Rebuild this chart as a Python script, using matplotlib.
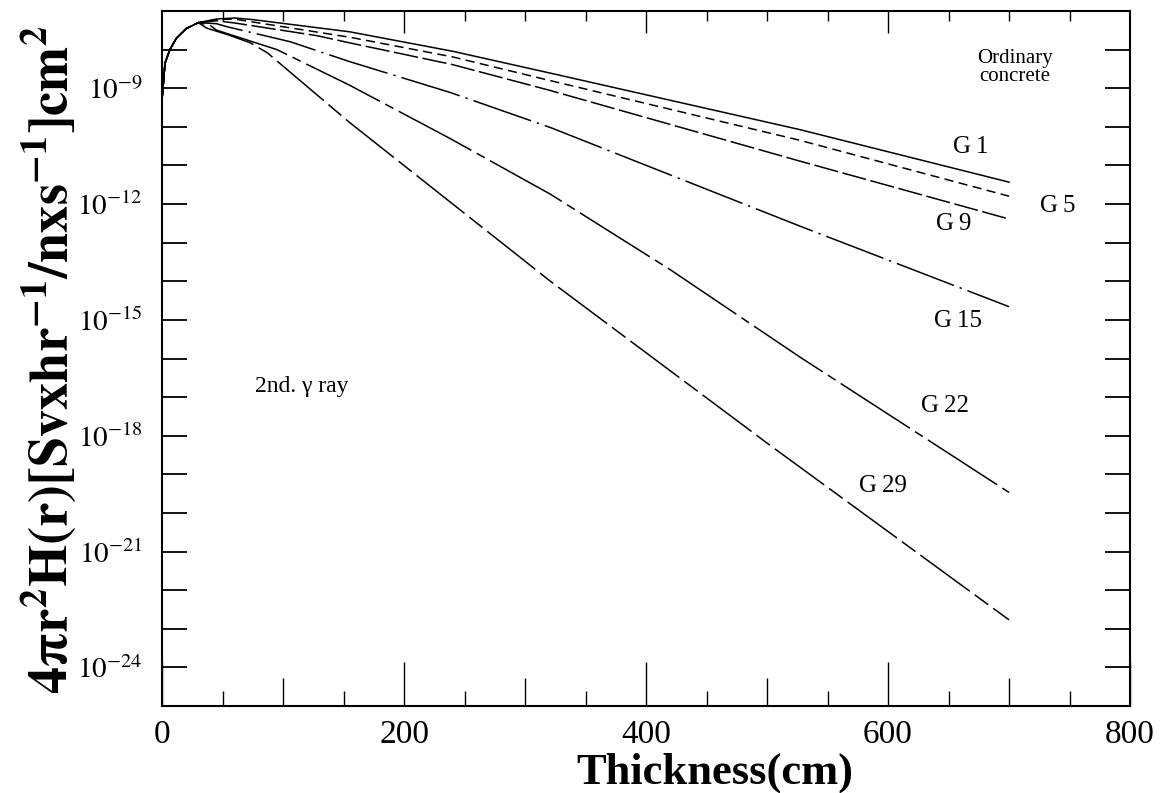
import numpy as np
import matplotlib
matplotlib.use("Agg")
import matplotlib.pyplot as plt
from matplotlib.ticker import FixedLocator, FuncFormatter, NullLocator

plt.rcParams["font.family"] = ["Liberation Serif", "DejaVu Serif"]
plt.rcParams["mathtext.fontset"] = "stix"

# shared build-up part near the surface
rise_x = [0, 2.5, 6.5, 12, 20, 30]
rise_y = [5.0e-10, 4.5e-9, 1.0e-8, 2.0e-8, 3.5e-8, 5.0e-8]

g1_x = [45, 60, 75, 155, 240, 320, 527, 700]
g1_y = [6.2e-8, 6.6e-8, 6.0e-8, 2.9e-8, 9.1e-9, 2.5e-9, 8.5e-11, 3.7e-12]

g5_x = [45, 60, 75, 155, 240, 320, 527, 700]
g5_y = [6.0e-8, 6.2e-8, 5.2e-8, 2.1e-8, 6.5e-9, 1.6e-9, 4.5e-11, 1.6e-12]

g9_x = [45, 60, 128, 155, 240, 320, 527, 700]
g9_y = [5.6e-8, 4.9e-8, 2.3e-8, 1.5e-8, 4.1e-9, 8.9e-10, 1.3e-11, 4.1e-13]

g15_x = [45, 54, 106, 155, 238, 321, 527, 700]
g15_y = [4.7e-8, 3.9e-8, 1.6e-8, 4.9e-9, 7.8e-10, 9.6e-11, 2.7e-13, 2.2e-15]

g22_x = [40, 45, 95, 155, 238, 321, 420, 527, 700]
g22_y = [4.2e-8, 3.2e-8, 1.0e-8, 1.2e-9, 5.0e-11, 1.8e-12, 2.0e-14, 1.1e-16, 3.4e-20]

g29_x = [37, 55, 73, 87, 155, 321, 502, 700]
g29_y = [3.6e-8, 2.4e-8, 1.5e-8, 8.3e-9, 1.3e-10, 1.0e-14, 5.8e-19, 1.7e-23]

series = [
    ("G1", g1_x, g1_y, "-"),
    ("G5", g5_x, g5_y, (0, (6, 3.5))),
    ("G9", g9_x, g9_y, (0, (16, 3))),
    ("G15", g15_x, g15_y, (0, (40, 4, 1.5, 4))),
    ("G22", g22_x, g22_y, (0, (54, 4, 6, 4))),
    ("G29", g29_x, g29_y, (0, (40, 4, 11, 4))),
]

fig = plt.figure(figsize=(11.68, 7.93), dpi=100)
ax = fig.add_axes([0.1387, 0.1097, 0.8288, 0.8764])

for name, xs, ys, ls in series:
    ax.plot(np.r_[rise_x, xs], np.r_[rise_y, ys], color="black", lw=1.1, linestyle=ls)

ax.set_yscale("log")
ax.set_xlim(0, 800)
ax.set_ylim(1e-25, 1e-7)

def yfmt(v, pos):
    e = int(round(np.log10(v)))
    if e % 3 == 0 and -24 <= e <= -9:
        return r"$10^{%d}$" % e
    return ""

ax.yaxis.set_major_locator(FixedLocator(10.0 ** np.arange(-25, -6)))
ax.yaxis.set_minor_locator(NullLocator())
ax.yaxis.set_major_formatter(FuncFormatter(yfmt))
ax.tick_params(axis="y", which="major", direction="in", length=18, width=1.3,
               left=True, right=True, labelsize=21, pad=14)

ax.set_xticks([0, 200, 400, 600, 800])
ax.set_xticks(np.arange(100, 800, 200), minor=True)
ax.tick_params(axis="x", which="major", direction="in", length=32, width=1.0,
               top=False, labelsize=24, pad=10)
ax.tick_params(axis="x", which="minor", direction="in", length=20, width=1.0, top=False)

# extra 50 cm ticks on the bottom, and the top ticks
sec = ax.secondary_xaxis("bottom")
sec.set_xticks(np.arange(50, 800, 100))
sec.tick_params(direction="in", length=11, width=1.0, labelbottom=False)
top = ax.secondary_xaxis("top")
top.set_xticks([200, 400, 600])
top.set_xticks([50, 100, 150, 250, 300, 350, 450, 500, 550, 650, 700, 750], minor=True)
top.tick_params(which="major", direction="in", length=16, width=1.0, labeltop=False)
top.tick_params(which="minor", direction="in", length=7, width=1.0)
for s in list(sec.spines.values()) + list(top.spines.values()):
    s.set_visible(False)

for s in ax.spines.values():
    s.set_linewidth(1.5)

# curve labels
labels_pos = {"G1": (668, 10**-10.53), "G5": (740, 10**-12.05), "G9": (654, 10**-12.52),
              "G15": (658, 10**-15.02), "G22": (647, 10**-17.23), "G29": (596, 10**-19.29)}
for name, (lx, ly) in labels_pos.items():
    ax.text(lx, ly, name[0] + "\u2009" + name[1:], fontsize=18, ha="center", va="center")

ax.text(705, 10**-8.47, "Ordinary\nconcrete", fontsize=15, ha="center", va="center",
        linespacing=0.9)
ax.text(77, 10**-16.72, "2nd. \u03b3 ray", fontsize=17, ha="left", va="center")

fig.text(715 / 1168, 1 - 773 / 793, "Thickness(cm)", fontsize=32, fontweight="bold",
         ha="center", va="center")
fig.text(50 / 1168, 1 - 360 / 793, r"$\mathbf{4\pi r^2H(r)[Svxhr^{-1}/nxs^{-1}]cm^2}$",
         fontsize=39, rotation=90, ha="center", va="center")

fig.savefig("out.png", dpi=100)
